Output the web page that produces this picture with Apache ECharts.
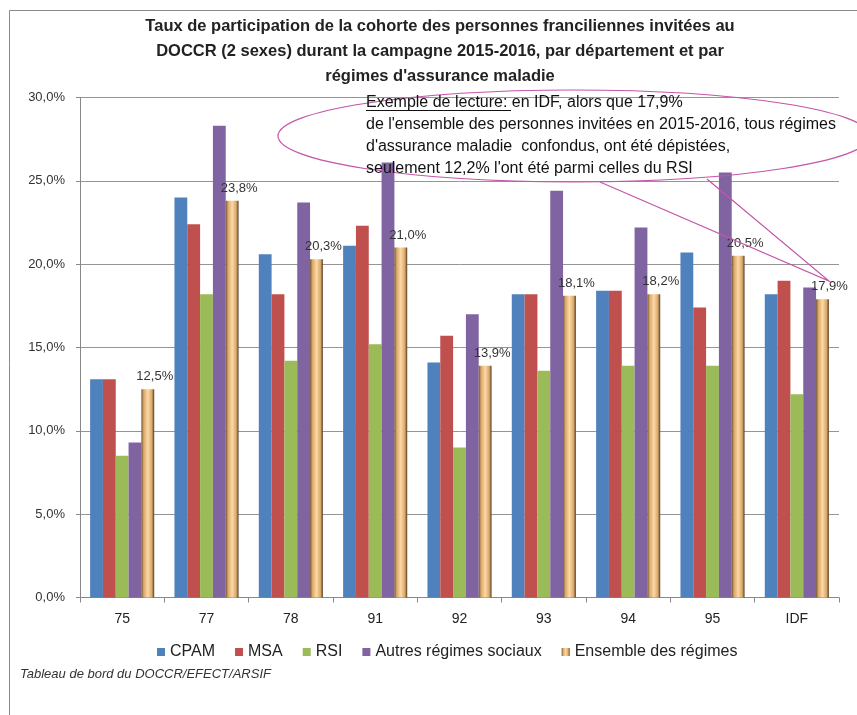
<!DOCTYPE html>
<html>
<head>
<meta charset="utf-8">
<script src="https://cdn.jsdelivr.net/npm/echarts@6/dist/echarts.min.js"></script>
<style>
  html, body { margin: 0; padding: 0; background: #fff; }
  #chart { width: 857px; height: 715px; }
</style>
</head>
<body>
<div id="chart"></div>
<script>
// données
var departements = ["75", "77", "78", "91", "92", "93", "94", "95", "IDF"];
var cpam = [13.1, 24.0, 20.6, 21.1, 14.1, 18.2, 18.4, 20.7, 18.2];
var msa = [13.1, 22.4, 18.2, 22.3, 15.7, 18.2, 18.4, 17.4, 19.0];
var rsi = [8.5, 18.2, 14.2, 15.2, 9.0, 13.6, 13.9, 13.9, 12.2];
var autres = [9.3, 28.3, 23.7, 26.1, 17.0, 24.4, 22.2, 25.5, 18.6];
var ensemble = [12.5, 23.8, 20.3, 21.0, 13.9, 18.1, 18.2, 20.5, 17.9];
var yTicks = [0, 5, 10, 15, 20, 25, 30];

var chart = echarts.init(document.getElementById("chart"));

function pct(v) {
  return v.toFixed(1).replace(".", ",") + "%";
}

var orangeFill = new echarts.graphic.LinearGradient(0, 0, 1, 0, [
  { offset: 0, color: "#6e5234" },
  { offset: 0.18, color: "#d9a868" },
  { offset: 0.5, color: "#fdd8a6" },
  { offset: 0.82, color: "#d9a868" },
  { offset: 1, color: "#4e3a24" }
]);

var font = "Liberation Sans";

var option = {
  animation: false,
  textStyle: { fontFamily: font },
  title: {
    text: "Taux de participation de la cohorte des personnes franciliennes invitées au\nDOCCR (2 sexes) durant la campagne 2015-2016, par département et par\nrégimes d'assurance maladie",
    left: 435,
    textAlign: "center",
    top: 9,
    textStyle: { fontSize: 16.5, fontWeight: "bold", color: "#222", lineHeight: 25, fontFamily: font }
  },
  grid: { left: 80, right: 18, top: 97.5, bottom: 117.5 },
  legend: {
    top: 639,
    left: 152,
    itemWidth: 8,
    itemHeight: 8,
    itemGap: 20,
    icon: "rect",
    textStyle: { fontSize: 16, color: "#222", fontFamily: font },
    data: ["CPAM", "MSA", "RSI", "Autres régimes sociaux", "Ensemble des régimes"]
  },
  xAxis: {
    type: "category",
    data: departements,
    axisLine: { lineStyle: { color: "#888" } },
    axisTick: { show: true, length: 5, lineStyle: { color: "#888" } },
    axisLabel: { fontSize: 14, color: "#222", margin: 15 }
  },
  yAxis: {
    type: "value",
    min: yTicks[0],
    max: yTicks[yTicks.length - 1],
    interval: 5,
    axisLine: { show: true, lineStyle: { color: "#888" } },
    axisTick: { show: true, length: 4, lineStyle: { color: "#888" } },
    splitLine: { lineStyle: { color: "#959595" } },
    axisLabel: { fontSize: 13, color: "#333", margin: 15, formatter: function (v) { return pct(v); } }
  },
  series: [
    { name: "CPAM", type: "bar", data: cpam, barGap: "0%", barCategoryGap: "24%", itemStyle: { color: "#4f81bd" } },
    { name: "MSA", type: "bar", data: msa, itemStyle: { color: "#c0504d" } },
    { name: "RSI", type: "bar", data: rsi, itemStyle: { color: "#9bbb59" } },
    { name: "Autres régimes sociaux", type: "bar", data: autres, itemStyle: { color: "#8064a2" } },
    {
      name: "Ensemble des régimes", type: "bar", data: ensemble,
      itemStyle: { color: orangeFill },
      label: {
        show: true, position: "top", offset: [7, -1],
        fontSize: 13, color: "#333",
        formatter: function (p) { return pct(p.value); }
      }
    }
  ],
  graphic: [
    {
      type: "rect", silent: true, z: -10,
      shape: { x: 9.5, y: 10.5, width: 900, height: 800 },
      style: { fill: "none", stroke: "#8a8a8a", lineWidth: 1 }
    },
    {
      type: "ellipse", silent: true, z: 100,
      shape: { cx: 574, cy: 136, rx: 296, ry: 46 },
      style: { fill: "none", stroke: "#c455a8", lineWidth: 1.2 }
    },
    {
      type: "polyline", silent: true, z: 100,
      shape: { points: [[600, 182], [829, 281], [707, 179]] },
      style: { fill: "none", stroke: "#c455a8", lineWidth: 1.2 }
    },
    {
      type: "text", silent: true, z: 101, left: 366, top: 92,
      style: {
        text: "Exemple de lecture: en IDF, alors que 17,9%\nde l'ensemble des personnes invitées en 2015-2016, tous régimes\nd'assurance maladie  confondus, ont été dépistées,\nseulement 12,2% l'ont été parmi celles du RSI",
        font: "16px " + font, fill: "#111", lineHeight: 22
      }
    },
    {
      type: "line", silent: true, z: 101,
      shape: { x1: 366, y1: 110.5, x2: 511, y2: 110.5 },
      style: { stroke: "#111", lineWidth: 1 }
    },
    {
      type: "text", silent: true, left: 20, top: 668,
      style: { text: "Tableau de bord du DOCCR/EFECT/ARSIF", font: "italic 13px " + font, fill: "#333" }
    }
  ]
};

chart.setOption(option);
</script>
</body>
</html>
